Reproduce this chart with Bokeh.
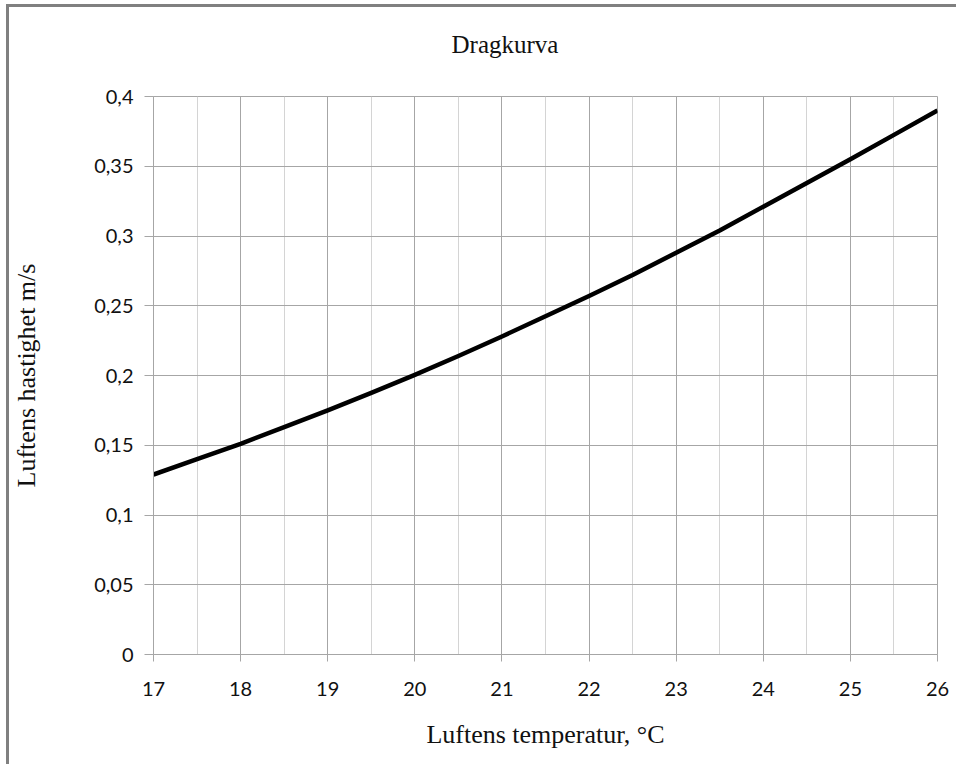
from bokeh.plotting import figure
from bokeh.models import FixedTicker, Title
from bokeh.embed import file_html
from bokeh.resources import INLINE

# Data
temperature = [17, 17.5, 18, 18.5, 19, 19.5, 20, 20.5, 21, 21.5, 22, 22.5, 23, 23.5, 24, 24.5, 25, 25.5, 26]
speed = [0.129, 0.140, 0.151, 0.163, 0.175, 0.1875, 0.2005, 0.214, 0.228, 0.2425, 0.257, 0.272, 0.288, 0.304, 0.321, 0.338, 0.355, 0.3725, 0.390]

x_ticks = [17, 18, 19, 20, 21, 22, 23, 24, 25, 26]
x_minor = [17.5, 18.5, 19.5, 20.5, 21.5, 22.5, 23.5, 24.5, 25.5]
y_ticks = [0, 0.05, 0.1, 0.15, 0.2, 0.25, 0.3, 0.35, 0.4]
y_tick_labels = ["0", "0,05", "0,1", "0,15", "0,2", "0,25", "0,3", "0,35", "0,4"]

title_text = "Dragkurva"
x_label = "Luftens temperatur, \u00b0C"
y_label = "Luftens hastighet m/s"

p = figure(width=950, height=760, x_range=(17, 26), y_range=(0, 0.4),
           output_backend="svg", toolbar_location=None,
           min_border_left=144, min_border_right=22, min_border_top=89, min_border_bottom=113,
           background_fill_color="white", border_fill_color="white")
p.styles = {"border-left": "3px solid #808080", "border-top": "3px solid #808080",
            "margin-left": "6px", "margin-top": "4px"}

# spacer between the title and the plot frame
spacer = Title(text=" ", text_font_size="1px", standoff=31)
p.add_layout(spacer, "above")

t = Title(text=title_text, text_font="Liberation Serif", text_font_size="25px",
          text_font_style="normal", text_color="#111111", align="left", offset=298, standoff=10)
p.add_layout(t, "above")

p.line(temperature, speed, line_color="black", line_width=4.5, line_join="round")

p.xaxis.ticker = FixedTicker(ticks=x_ticks, minor_ticks=x_minor)
p.yaxis.ticker = FixedTicker(ticks=y_ticks)
p.yaxis.major_label_overrides = {v: s for v, s in zip(y_ticks, y_tick_labels)}

for ax in (p.xaxis[0], p.yaxis[0]):
    ax.axis_line_color = "#a6a6a6"
    ax.axis_line_width = 1
    ax.major_tick_line_color = "#a6a6a6"
    ax.minor_tick_line_color = None
    ax.major_tick_in = 0
    ax.major_label_text_font = "Lato"
    ax.major_label_text_font_size = "20px"
    ax.major_label_text_color = "#111111"
    ax.axis_label_text_font = "Liberation Serif"
    ax.axis_label_text_font_size = "26px"
    ax.axis_label_text_font_style = "normal"
    ax.axis_label_text_color = "#111111"

p.xaxis.major_tick_out = 7
p.yaxis.major_tick_out = 9
p.xaxis.major_label_standoff = 20
p.yaxis.major_label_standoff = 11
p.xaxis.axis_label = x_label
p.yaxis.axis_label = y_label
p.xaxis.axis_label_standoff = 21
p.yaxis.axis_label_standoff = 50

p.xgrid.grid_line_color = "#a6a6a6"
p.xgrid.minor_grid_line_color = "#d4d4d4"
p.ygrid.grid_line_color = "#a6a6a6"
p.outline_line_color = "#a6a6a6"

open("out.html", "w").write(file_html(p, INLINE))
